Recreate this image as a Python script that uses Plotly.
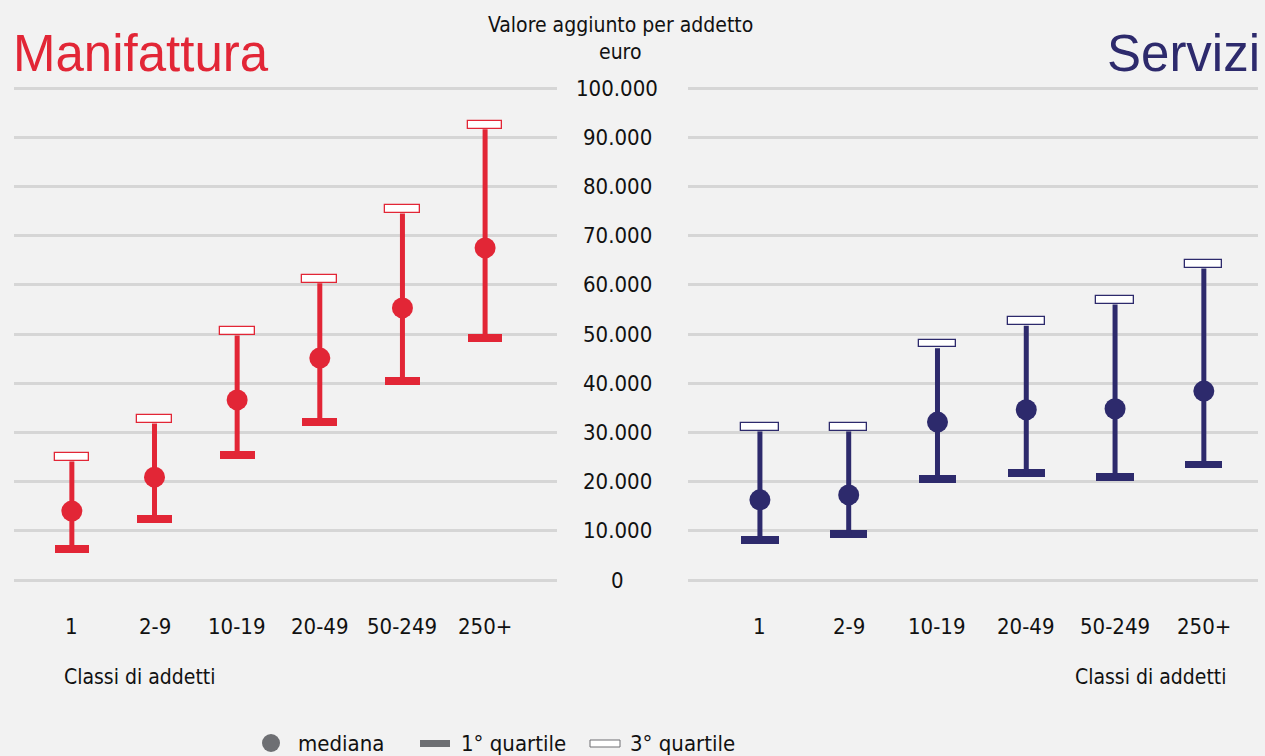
import plotly.graph_objects as go
from plotly.subplots import make_subplots

classes = ["1", "2-9", "10-19", "20-49", "50-249", "250+"]

man_q1 = [6300, 12400, 25400, 32100, 40400, 49200]
man_med = [14000, 20900, 36600, 45100, 55300, 67500]
man_q3 = [25000, 32700, 50600, 61200, 75400, 92500]

ser_q1 = [8100, 9300, 20500, 21700, 20900, 23400]
ser_med = [16300, 17300, 32100, 34600, 34800, 38400]
ser_q3 = [31100, 31100, 48000, 52600, 56900, 64200]

y_ticks = [0, 10000, 20000, 30000, 40000, 50000, 60000, 70000, 80000, 90000, 100000]
y_tick_labels = ["0", "10.000", "20.000", "30.000", "40.000", "50.000",
                 "60.000", "70.000", "80.000", "90.000", "100.000"]

RED = "#E22636"
NAVY = "#2D2A6C"
GRAY = "#6E6F73"
BG = "#F2F2F2"
GRID = "#D6D6D6"
NARROW = "DejaVu Sans Condensed, Liberation Sans Narrow, sans-serif"
CAP_H = 1500  # data height of caps
CAP_W = 0.42

W, H = 1265, 756
fig = make_subplots(rows=1, cols=2, horizontal_spacing=0.0)


def add_panel(col, q1, med, q3, color):
    xs = list(range(len(classes)))
    fig.add_trace(go.Bar(x=xs, y=[CAP_H] * len(xs), base=[v - CAP_H / 2 for v in q1],
                         width=CAP_W, marker=dict(color=color, line=dict(width=0)),
                         showlegend=False, hoverinfo="skip"), row=1, col=col)
    fig.add_trace(go.Bar(x=xs, y=[CAP_H] * len(xs), base=[v - CAP_H / 2 for v in q3],
                         width=CAP_W, marker=dict(color="white", line=dict(color=color, width=1.3)),
                         showlegend=False, hoverinfo="skip"), row=1, col=col)
    lx, ly = [], []
    for i in xs:
        lx += [i, i, None]
        ly += [q1[i], q3[i] - CAP_H / 2 - 150, None]
    fig.add_trace(go.Scatter(x=lx, y=ly, mode="lines", line=dict(color=color, width=5),
                             showlegend=False, hoverinfo="skip"), row=1, col=col)
    fig.add_trace(go.Scatter(x=xs, y=med, mode="markers",
                             marker=dict(color=color, size=21, line=dict(width=0)),
                             showlegend=False), row=1, col=col)


add_panel(1, man_q1, man_med, man_q3, RED)
add_panel(2, ser_q1, ser_med, ser_q3, NAVY)

# pixel mapping: 0 -> 580 px, 100000 -> 88 px; pad range so edge gridlines draw
PAD = 1000
px_per = (580 - 88) / 100000
top_px = 88 - PAD * px_per
bot_px = 580 + PAD * px_per
ydom = [(H - bot_px) / H, (H - top_px) / H]
yrange = [-PAD, 100000 + PAD]

fig.update_layout(
    width=W, height=H, margin=dict(l=0, r=0, t=0, b=0),
    paper_bgcolor=BG, plot_bgcolor=BG, barmode="overlay", bargap=0,
    showlegend=False,
    xaxis=dict(domain=[14 / W, 557 / W], range=[-0.70, 5.87],
               tickvals=list(range(6)), ticktext=classes, showgrid=False,
               zeroline=False, showticklabels=False),
    xaxis2=dict(domain=[688 / W, 1258 / W], range=[-0.81, 5.61],
                tickvals=list(range(6)), ticktext=classes, showgrid=False,
                zeroline=False, showticklabels=False),
    yaxis=dict(domain=ydom, range=yrange, tickvals=y_ticks, showticklabels=False,
               gridcolor=GRID, gridwidth=2.5, zeroline=False),
    yaxis2=dict(domain=ydom, range=yrange, tickvals=y_ticks, showticklabels=False,
                gridcolor=GRID, gridwidth=2.5, zeroline=False),
)

TXT = "#111"
ann = []
for v, t in zip(y_ticks, y_tick_labels):
    ann.append(dict(x=617 / W, xref="paper", y=v, yref="y", text=t, showarrow=False,
                    xanchor="center", yanchor="middle",
                    font=dict(family=NARROW, size=22, color=TXT)))
for i, c in enumerate(classes):
    for xr in ("x", "x2"):
        ann.append(dict(x=i, xref=xr, y=(H - 626) / H, yref="paper", text=c, showarrow=False,
                        xanchor="center", yanchor="middle",
                        font=dict(family=NARROW, size=22, color=TXT)))


def txt(x, y, s, anchor, size, color=TXT, family=NARROW):
    return dict(x=x / W, y=(H - y) / H, xref="paper", yref="paper", text=s,
                showarrow=False, xanchor=anchor, yanchor="middle",
                font=dict(family=family, size=size, color=color))


SANS = "Liberation Sans, Arial, sans-serif"
ann += [
    txt(62, 677, "Classi di addetti", "left", 21),
    txt(1228, 677, "Classi di addetti", "right", 21),
    txt(620, 25, "Valore aggiunto per addetto", "center", 21),
    txt(620, 52, "euro", "center", 21),
    txt(11, 54, "Manifattura", "left", 51, RED, SANS),
    txt(1262, 54, "Servizi", "right", 51, NAVY, SANS),
    txt(296, 743, "mediana", "left", 22),
    txt(459, 743, "1° quartile", "left", 22),
    txt(628, 743, "3° quartile", "left", 22),
]
fig.update_layout(annotations=ann)

shapes = [
    dict(type="circle", xref="paper", yref="paper", x0=262 / W, x1=280 / W,
         y0=(H - 752) / H, y1=(H - 734) / H, fillcolor=GRAY, line=dict(width=0)),
    dict(type="rect", xref="paper", yref="paper", x0=420 / W, x1=450 / W,
         y0=(H - 747) / H, y1=(H - 740) / H, fillcolor=GRAY, line=dict(width=0)),
    dict(type="rect", xref="paper", yref="paper", x0=590 / W, x1=620 / W,
         y0=(H - 747) / H, y1=(H - 740) / H, fillcolor="white", line=dict(color=GRAY, width=1)),
]
fig.update_layout(shapes=shapes)

fig.write_html("out.html", config={"displayModeBar": False},
               post_script="document.body.style.margin='0';")
